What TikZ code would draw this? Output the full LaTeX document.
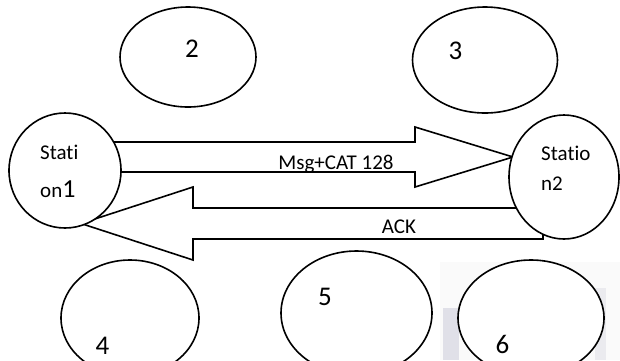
\documentclass[tikz,border=0pt]{standalone}
\usepackage{fontspec}
\setmainfont[Ligatures=NoCommon]{Carlito}
\usetikzlibrary{shapes.geometric}
\begin{document}
\begin{tikzpicture}[x=1pt,y=-1pt,
  ell/.style={draw=black,fill=white,ellipse,line width=1.6pt,inner sep=0pt},
  arrowshape/.style={draw=black,fill=white,line width=1.6pt,line join=miter},
  lbl/.style={inner sep=0pt,font=\fontsize{21}{25}\selectfont},
  num/.style={inner sep=0pt,anchor=base,font=\fontsize{27}{32}\selectfont}]
\useasboundingbox (0,0) rectangle (620,360);
% faint background
\fill[black!2] (440,262) rectangle (620,360);
\fill[blue!25!black!12] (443,308) rectangle (459,360);
\fill[blue!20!black!8] (595,288) rectangle (606,360);
% Msg arrow
\coordinate (m1) at (70,142);
\coordinate (m2) at (415,142);
\coordinate (m3) at (415,127);
\coordinate (mt) at (513,157);
\coordinate (m5) at (415,187);
\coordinate (m6) at (415,172);
\coordinate (m7) at (70,172);
\draw[arrowshape] (m1) -- (m2) -- (m3) -- (mt) -- (m5) -- (m6) -- (m7) -- cycle;
\begin{scope}
  \clip (m1) rectangle (m6);
  \node[lbl,anchor=base] (msg) at (336,169.5) {Msg+CAT 128};
\end{scope}
% ACK arrow
\coordinate (a1) at (543,208);
\coordinate (a2) at (193,208);
\coordinate (a3) at (193,187);
\coordinate (at) at (81,223.5);
\coordinate (a5) at (193,260);
\coordinate (a6) at (193,239);
\coordinate (a7) at (543,239);
\draw[arrowshape] (a1) -- (a2) -- (a3) -- (at) -- (a5) -- (a6) -- (a7) -- cycle;
\node[lbl,anchor=base] (ack) at (399,233) {ACK};
% stations
\node[ell,minimum width=112,minimum height=115] (s1) at (65,170.5) {};
\node[lbl,anchor=base west] (s1a) at (40,159) {Stati};
\node[lbl,anchor=base west] (s1b) at (40,197) {on\fontsize{26}{30}\selectfont 1};
\node[ell,minimum width=110,minimum height=124] (s2) at (564,177) {};
\node[lbl,anchor=base west] (s2a) at (541,160) {Statio};
\node[lbl,anchor=base west] (s2b) at (541,190) {n2};
% other ellipses
\node[ell,minimum width=136,minimum height=100] (e2) at (188,57) {};
\node[num] (n2) at (192,57) {2};
\node[ell,minimum width=145,minimum height=106] (e3) at (485,60) {};
\node[num] (n3) at (455.5,59) {3};
\node[ell,minimum width=138,minimum height=116] (e4) at (130,318) {};
\node[num] (n4) at (102.5,354) {4};
\node[ell,minimum width=151,minimum height=124] (e5) at (356.5,313) {};
\node[num] (n5) at (325,305) {5};
\node[ell,minimum width=146,minimum height=116] (e6) at (531,318) {};
\node[num] (n6) at (502.5,353) {6};
\end{tikzpicture}
\end{document}
